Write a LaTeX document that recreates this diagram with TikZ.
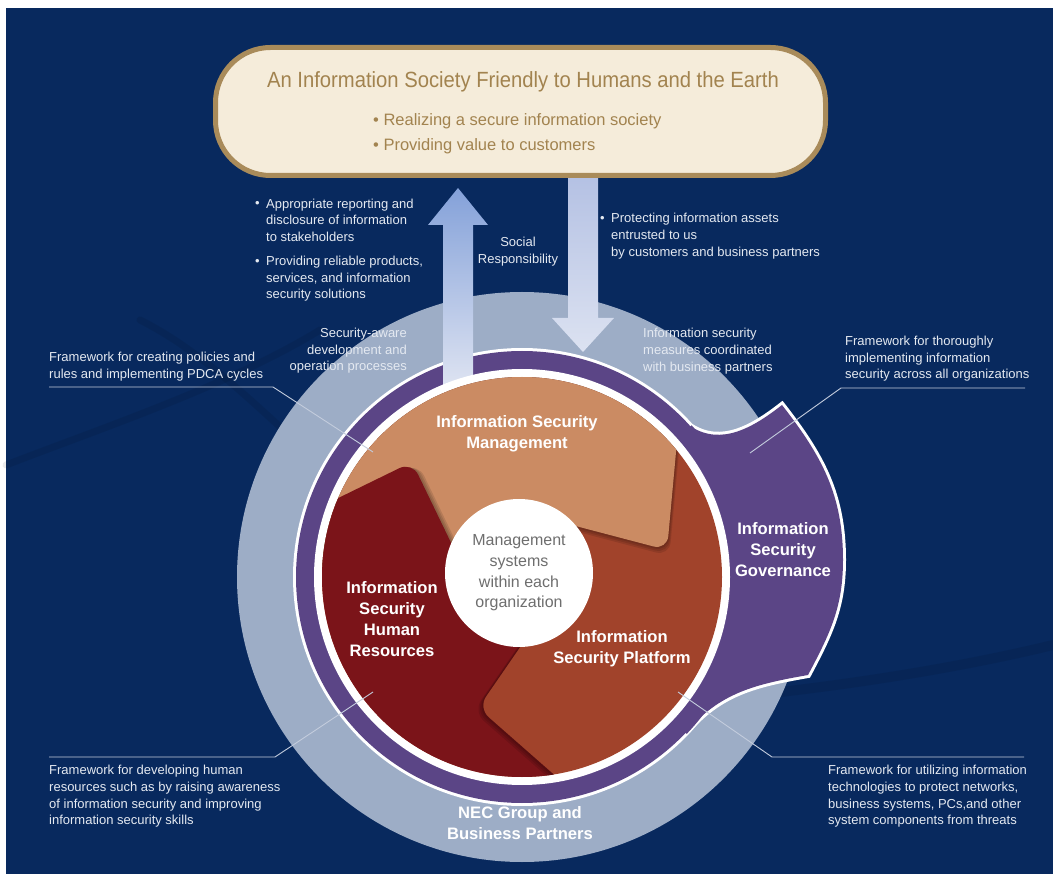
\documentclass[tikz,border=0pt]{standalone}
\usepackage{fontspec}
\setmainfont{Liberation Sans}
\usetikzlibrary{calc}
\definecolor{navy}{HTML}{08295E}
\definecolor{lightc}{HTML}{9DADC6}
\definecolor{ringp}{HTML}{5B4586}
\definecolor{tanc}{HTML}{CB8B63}
\definecolor{redc}{HTML}{7B1419}
\definecolor{rustc}{HTML}{A1432B}
\definecolor{goldc}{HTML}{A98B5A}
\definecolor{creamc}{HTML}{F5ECDA}
\definecolor{titlec}{HTML}{A2834F}
\definecolor{annoc}{HTML}{E4E9F1}
\definecolor{leaderc}{HTML}{C3CCDD}
\definecolor{centc}{HTML}{6E6E6E}
\definecolor{dtop}{HTML}{B3C0E3}
\definecolor{dbot}{HTML}{DCE2F1}
\definecolor{utop}{HTML}{84A1D9}
\definecolor{ubot}{HTML}{E0E5F2}
\begin{document}
\begin{tikzpicture}[x=1pt,y=1pt,
  annot/.style={text=annoc, font=\fontsize{13}{16.7}\selectfont, inner sep=0pt, align=left},
  annotr/.style={annot, align=right},
  annotc/.style={annot, align=center},
  seglabel/.style={text=white, font=\bfseries\fontsize{16.6}{21}\selectfont, inner sep=0pt, align=center},
  leader/.style={draw=leaderc, line width=0.9pt},
  swoosh/.style={line width=7pt, draw=black, opacity=0.08, line cap=round},
  shadowfill/.style={fill=black, opacity=0.11, rounded corners=14pt},
]
\useasboundingbox (0,0) rectangle (1053,-882);
\fill[white] (0,0) rectangle (1053,-882);
\fill[navy] (6,-8) rectangle (1053,-874);

% background swooshes
\draw[swoosh] (6,-465) .. controls (110,-425) and (230,-385) .. (320,-330);
\draw[swoosh] (140,-320) .. controls (200,-350) and (250,-400) .. (300,-445);
\draw[swoosh, line width=10pt] (700,-700) .. controls (820,-690) and (950,-670) .. (1053,-645);

\coordinate (C) at (522,-577);
% outer light circle
\fill[lightc] (C) circle (285pt);

% down arrow
\shade[top color=dtop, bottom color=dbot] (568,-170) -- (598,-170) -- (598,-318) -- (614,-318) -- (583,-352) -- (552,-318) -- (568,-318) -- cycle;

% governance + ring
\fill[white] (C) circle (229pt);
\draw[white, line width=6pt, line join=miter] (685.7,-732.8) arc[start angle=-43.6,end angle=41.8,radius=226pt] to[out=-33,in=218] (782,-405) to[out=-52,in=90] (843,-560) to[out=-90,in=62] (808,-675) to[out=190,in=50] (685.7,-732.8) -- cycle;
\fill[ringp] (685.7,-732.8) arc[start angle=-43.6,end angle=41.8,radius=226pt] to[out=-33,in=218] (782,-405) to[out=-52,in=90] (843,-560) to[out=-90,in=62] (808,-675) to[out=190,in=50] (685.7,-732.8) -- cycle;
\fill[ringp] (C) circle (226pt);
\draw[ringp, line width=3pt] (685.7,-732.8) arc[start angle=-43.6,end angle=41.8,radius=226pt];

% up arrow
\shade[top color=utop, bottom color=ubot] (443,-392) -- (443,-225) -- (428,-225) -- (458,-188) -- (488,-225) -- (473,-225) -- (473,-392) -- cycle;

\fill[white] (C) circle (208pt);

% pinwheel pieces
\begin{scope}
\clip (C) circle (200pt);
\fill[rustc] (C) circle (205pt);
\foreach \s in {2,4,6}{
  \fill[shadowfill, shift={(0.4*\s,-\s)}] (200,-300) -- (690,-300) -- (667,-550) -- (530,-514) -- (480,-570) -- (200,-570) -- cycle;}
\fill[tanc, rounded corners=14pt] (200,-300) -- (690,-300) -- (667,-550) -- (530,-514) -- (480,-570) -- (200,-570) -- cycle;
\begin{scope}
\clip[rounded corners=14pt] (200,-300) -- (690,-300) -- (667,-550) -- (530,-514) -- (480,-570) -- (200,-570) -- cycle;
\foreach \s in {2,4,6}{
  \fill[shadowfill, shift={(\s,-0.2*\s)}] (150,-590) -- (412,-462) -- (470,-582) -- (540,-618) -- (478,-708) -- (651,-860) -- (650,-900) -- (150,-900) -- cycle;}
\end{scope}
\fill[redc, rounded corners=14pt] (150,-590) -- (412,-462) -- (470,-582) -- (540,-618) -- (478,-708) -- (651,-860) -- (650,-900) -- (150,-900) -- cycle;
\begin{scope}
\clip[rounded corners=14pt] (150,-590) -- (412,-462) -- (470,-582) -- (540,-618) -- (478,-708) -- (651,-860) -- (650,-900) -- (150,-900) -- cycle;
\foreach \s in {2,4,6}{
  \fill[shadowfill, shift={(-0.8*\s,-0.6*\s)}] (651,-860) -- (478,-708) -- (540,-618) -- (570,-580) -- (900,-580) -- (900,-900) -- cycle;}
\end{scope}
\end{scope}

% centre circle
\node[circle, fill=white, minimum size=148pt, inner sep=0pt, text=centc, align=center,
  font=\fontsize{16}{20.7}\selectfont] (core) at (519,-573) {Management\\systems\\within each\\organization};

% goal pill
\node[draw=goldc, line width=5pt, fill=creamc, rounded corners=55pt, minimum width=610pt, minimum height=128pt, inner sep=0pt] (goal) at (520.5,-111.5) {};
\node[text=titlec, font=\fontsize{22}{26}\selectfont, xscale=0.92, inner sep=0pt] (title) at (523,-82) {An Information Society Friendly to Humans and the Earth};
\node[anchor=west, text=titlec, font=\fontsize{16.5}{25}\selectfont, align=left, inner sep=0pt] (goals) at (373,-133.5) {• Realizing a secure information society\\• Providing value to customers};

% social responsibility texts
\node[annot, anchor=west] (b1) at (255,-204) {•};
\node[annot, anchor=west] (resp1) at (266,-220.3) {Appropriate reporting and\\disclosure of information\\to stakeholders};
\node[annot, anchor=west] (b2) at (255,-262) {•};
\node[annot, anchor=west] (resp2) at (266,-278.7) {Providing reliable products,\\services, and information\\security solutions};
\node[annotc] (social) at (518,-251.5) {Social\\Responsibility};
\node[annot, anchor=west] (b3) at (600,-219) {•};
\node[annot, anchor=west] (prot) at (611,-236) {Protecting information assets\\entrusted to us\\by customers and business partners};
\node[annotr, anchor=east] (secaware) at (407,-350.7) {Security-aware\\development and\\operation processes};
\node[annot, anchor=west] (coord) at (643,-351) {Information security\\measures coordinated\\with business partners};

% segment labels
\node[seglabel] (mgmt) at (517,-433.5) {Information Security\\Management};
\node[seglabel] (hr) at (392,-619.5) {Information\\Security\\Human\\Resources};
\node[seglabel] (plat) at (622,-649) {Information\\Security Platform};
\node[seglabel] (gov) at (783,-550) {Information\\Security\\Governance};
\node[seglabel] (nec) at (520,-823) {NEC Group and\\Business Partners};

% framework annotations
\node[annot, anchor=west] (fw1) at (49,-366.5) {Framework for creating policies and\\rules and implementing PDCA cycles};
\node[annot, anchor=west] (fw2) at (845,-358.7) {Framework for thoroughly\\implementing information\\security across all organizations};
\node[annot, anchor=west] (fw3) at (49,-796.5) {Framework for developing human\\resources such as by raising awareness\\of information security and improving\\information security skills};
\node[annot, anchor=west] (fw4) at (828,-796.5) {Framework for utilizing information\\technologies to protect networks,\\business systems, PCs,and other\\system components from threats};

% leader lines
\coordinate (l1s) at (49,-387);  \coordinate (l1k) at (273,-387);  \coordinate (l1e) at (373,-452);
\coordinate (l2s) at (1025,-388); \coordinate (l2k) at (841,-388); \coordinate (l2e) at (750,-453);
\coordinate (l3s) at (49,-757);  \coordinate (l3k) at (275,-757);  \coordinate (l3e) at (373,-692);
\coordinate (l4s) at (1024,-757); \coordinate (l4k) at (772,-757); \coordinate (l4e) at (678,-692);
\draw[leader] (l1s) -- (l1k) -- (l1e);
\draw[leader] (l2s) -- (l2k) -- (l2e);
\draw[leader] (l3s) -- (l3k) -- (l3e);
\draw[leader] (l4s) -- (l4k) -- (l4e);
\end{tikzpicture}
\end{document}
